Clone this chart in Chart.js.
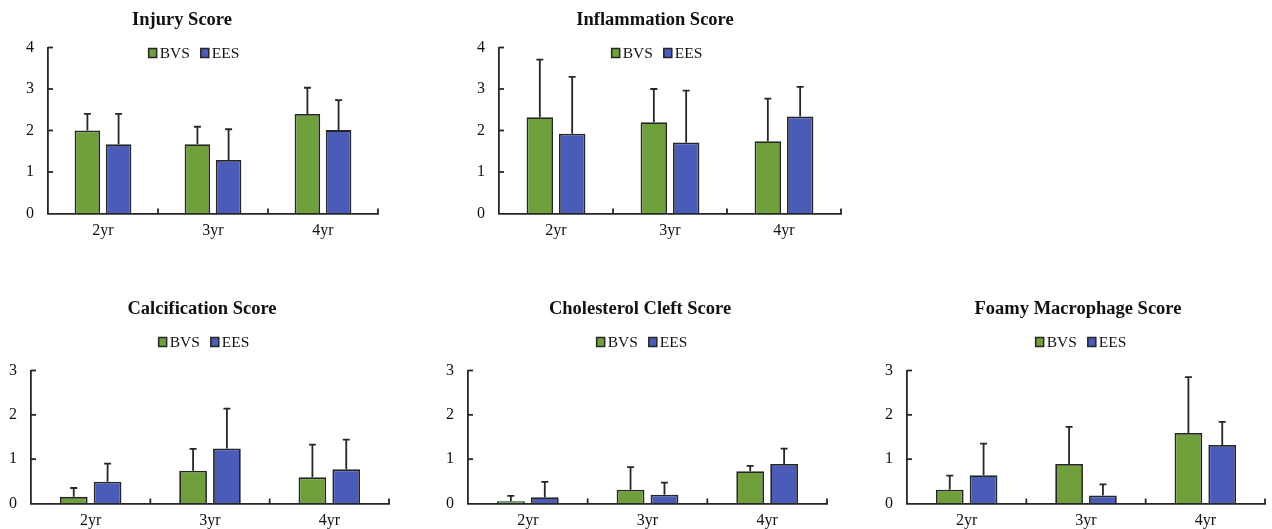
<!DOCTYPE html>
<html>
<head>
<meta charset="utf-8">
<script src="https://cdn.jsdelivr.net/npm/chart.js@4.4.0/dist/chart.umd.min.js"></script>
<style>
  html, body { margin: 0; padding: 0; background: #fff; }
  #wrap { position: relative; width: 1272px; height: 529px; overflow: hidden; }
  #wrap canvas { position: absolute; }
</style>
</head>
<body>
<div id="wrap"></div>
<script>
// categories and series
const years = ['2yr', '3yr', '4yr'];
const seriesNames = ['BVS', 'EES'];

// mean scores and SD (upper error bar length)
const injuryBVS = [2.0, 1.67, 2.4];
const injuryBVSsd = [0.4, 0.42, 0.63];
const injuryEES = [1.67, 1.29, 2.01];
const injuryEESsd = [0.73, 0.74, 0.72];

const inflamBVS = [2.32, 2.2, 1.74];
const inflamBVSsd = [1.39, 0.8, 1.03];
const inflamEES = [1.92, 1.71, 2.34];
const inflamEESsd = [1.37, 1.25, 0.71];

const calcBVS = [0.15, 0.74, 0.59];
const calcBVSsd = [0.2, 0.49, 0.74];
const calcEES = [0.49, 1.24, 0.77];
const calcEESsd = [0.41, 0.9, 0.67];

const cholBVS = [0.05, 0.31, 0.73];
const cholBVSsd = [0.12, 0.51, 0.12];
const cholEES = [0.14, 0.2, 0.89];
const cholEESsd = [0.35, 0.27, 0.35];

const foamBVS = [0.31, 0.89, 1.59];
const foamBVSsd = [0.32, 0.84, 1.26];
const foamEES = [0.64, 0.18, 1.32];
const foamEESsd = [0.71, 0.25, 0.52];

// axis ranges
const topAxisMax = 4;
const bottomAxisMax = 3;

const green = '#70a03c';
const blue = '#4a5bb8';
const ink = '#262626';
const serif = '"Liberation Serif", "Times New Roman", serif';

// draws error bars, inside tick marks, the title and the legend
const panelDecor = {
  id: 'panelDecor',
  afterDatasetsDraw(chart, args, opts) {
    const ctx = chart.ctx;
    const ys = chart.scales.y;
    const area = chart.chartArea;
    ctx.save();

    // upper error bars
    ctx.strokeStyle = ink;
    ctx.lineWidth = 1.8;
    chart.data.datasets.forEach((ds, di) => {
      chart.getDatasetMeta(di).data.forEach((bar, i) => {
        const top = ys.getPixelForValue(ds.data[i] + ds.sd[i]);
        ctx.beginPath();
        ctx.moveTo(bar.x, bar.y);
        ctx.lineTo(bar.x, top);
        ctx.moveTo(bar.x - 3.5, top);
        ctx.lineTo(bar.x + 3.5, top);
        ctx.stroke();
      });
    });

    // tick marks pointing into the plot
    ys.ticks.forEach(t => {
      if (t.value === 0) return;
      const py = ys.getPixelForValue(t.value);
      ctx.beginPath();
      ctx.moveTo(area.left, py);
      ctx.lineTo(area.left + 5, py);
      ctx.stroke();
    });
    const n = chart.data.labels.length;
    for (let i = 1; i <= n; i++) {
      const px = area.left + i * area.width / n;
      ctx.beginPath();
      ctx.moveTo(px, area.bottom);
      ctx.lineTo(px, area.bottom - 5);
      ctx.stroke();
    }

    // title
    ctx.fillStyle = '#111';
    ctx.font = 'bold 18.5px ' + serif;
    ctx.textAlign = 'center';
    ctx.textBaseline = 'middle';
    ctx.fillText(opts.title, opts.titleX, opts.titleY);

    // legend
    ctx.font = '15.5px ' + serif;
    ctx.textAlign = 'left';
    ctx.textBaseline = 'alphabetic';
    const items = chart.data.datasets.map(ds => ({ label: ds.label, color: ds.backgroundColor, w: ctx.measureText(ds.label).width }));
    const total = items.reduce((s, it) => s + 8 + 3 + it.w, 0) + 11 * (items.length - 1);
    let lx = opts.legendX - total / 2;
    const base = opts.legendY + 4.5;
    items.forEach(it => {
      ctx.fillStyle = it.color;
      ctx.fillRect(lx, base - 9, 8, 9);
      ctx.lineWidth = 1.5;
      ctx.strokeStyle = ink;
      ctx.strokeRect(lx, base - 9, 8, 9);
      ctx.fillStyle = '#111';
      ctx.fillText(it.label, lx + 11, base);
      lx += 8 + 3 + it.w + 11;
    });

    ctx.restore();
  }
};

const wrap = document.getElementById('wrap');

function buildPanel(p) {
  const canvas = document.createElement('canvas');
  canvas.width = p.width;
  canvas.height = p.height;
  canvas.style.left = p.left + 'px';
  canvas.style.top = p.top + 'px';
  canvas.style.width = p.width + 'px';
  canvas.style.height = p.height + 'px';
  wrap.appendChild(canvas);

  const yAxisW = p.axisX - p.left;
  const xAxisH = p.top + p.height - p.y0;

  return new Chart(canvas, {
    type: 'bar',
    data: {
      labels: years,
      datasets: [
        { label: seriesNames[0], data: p.bvs, sd: p.bvsSd, backgroundColor: green, borderColor: ink, borderWidth: 1.8 },
        { label: seriesNames[1], data: p.ees, sd: p.eesSd, backgroundColor: blue, borderColor: ink, borderWidth: 1.8 }
      ]
    },
    options: {
      responsive: false,
      animation: false,
      categoryPercentage: 0.567,
      barPercentage: 0.82,
      layout: {
        padding: { left: 0, right: p.left + p.width - p.right, top: p.yTop - p.top, bottom: 0 }
      },
      scales: {
        x: {
          grid: { display: true, drawOnChartArea: false, drawTicks: false },
          border: { color: ink, width: 1.8 },
          ticks: { color: '#111', font: { family: serif, size: 16 }, padding: 8 },
          afterFit: s => { s.height = xAxisH; s.paddingLeft = 0; s.paddingRight = 0; }
        },
        y: {
          min: 0,
          max: p.max,
          grid: { display: true, drawOnChartArea: false, drawTicks: false },
          border: { color: ink, width: 1.8 },
          ticks: { stepSize: 1, color: '#111', font: { family: serif, size: 16 }, padding: 14 },
          afterFit: s => { s.width = yAxisW; s.paddingTop = 0; s.paddingBottom = 0; }
        }
      },
      plugins: {
        legend: { display: false },
        tooltip: { enabled: false },
        panelDecor: {
          title: p.title,
          titleX: p.titleX - p.left,
          titleY: p.titleY - p.top,
          legendX: p.legendX - p.left,
          legendY: p.legendY - p.top
        }
      }
    },
    plugins: [panelDecor]
  });
}

// top row
buildPanel({
  title: 'Injury Score', bvs: injuryBVS, bvsSd: injuryBVSsd, ees: injuryEES, eesSd: injuryEESsd, max: topAxisMax,
  left: 0, top: 0, width: 400, height: 250,
  axisX: 48, right: 378, yTop: 47.5, y0: 213.5,
  titleX: 182, titleY: 20, legendX: 194, legendY: 53
});
buildPanel({
  title: 'Inflammation Score', bvs: inflamBVS, bvsSd: inflamBVSsd, ees: inflamEES, eesSd: inflamEESsd, max: topAxisMax,
  left: 440, top: 0, width: 420, height: 250,
  axisX: 499, right: 841, yTop: 47.5, y0: 213.5,
  titleX: 655, titleY: 20, legendX: 657, legendY: 53
});

// bottom row
buildPanel({
  title: 'Calcification Score', bvs: calcBVS, bvsSd: calcBVSsd, ees: calcEES, eesSd: calcEESsd, max: bottomAxisMax,
  left: 0, top: 285, width: 420, height: 244,
  axisX: 31, right: 389, yTop: 370.5, y0: 503.5,
  titleX: 202, titleY: 309, legendX: 204, legendY: 342
});
buildPanel({
  title: 'Cholesterol Cleft Score', bvs: cholBVS, bvsSd: cholBVSsd, ees: cholEES, eesSd: cholEESsd, max: bottomAxisMax,
  left: 425, top: 285, width: 420, height: 244,
  axisX: 468, right: 827, yTop: 370.5, y0: 503.5,
  titleX: 640, titleY: 309, legendX: 642, legendY: 342
});
buildPanel({
  title: 'Foamy Macrophage Score', bvs: foamBVS, bvsSd: foamBVSsd, ees: foamEES, eesSd: foamEESsd, max: bottomAxisMax,
  left: 850, top: 285, width: 422, height: 244,
  axisX: 907, right: 1265, yTop: 370.5, y0: 503.5,
  titleX: 1078, titleY: 309, legendX: 1081, legendY: 342
});
</script>
</body>
</html>
